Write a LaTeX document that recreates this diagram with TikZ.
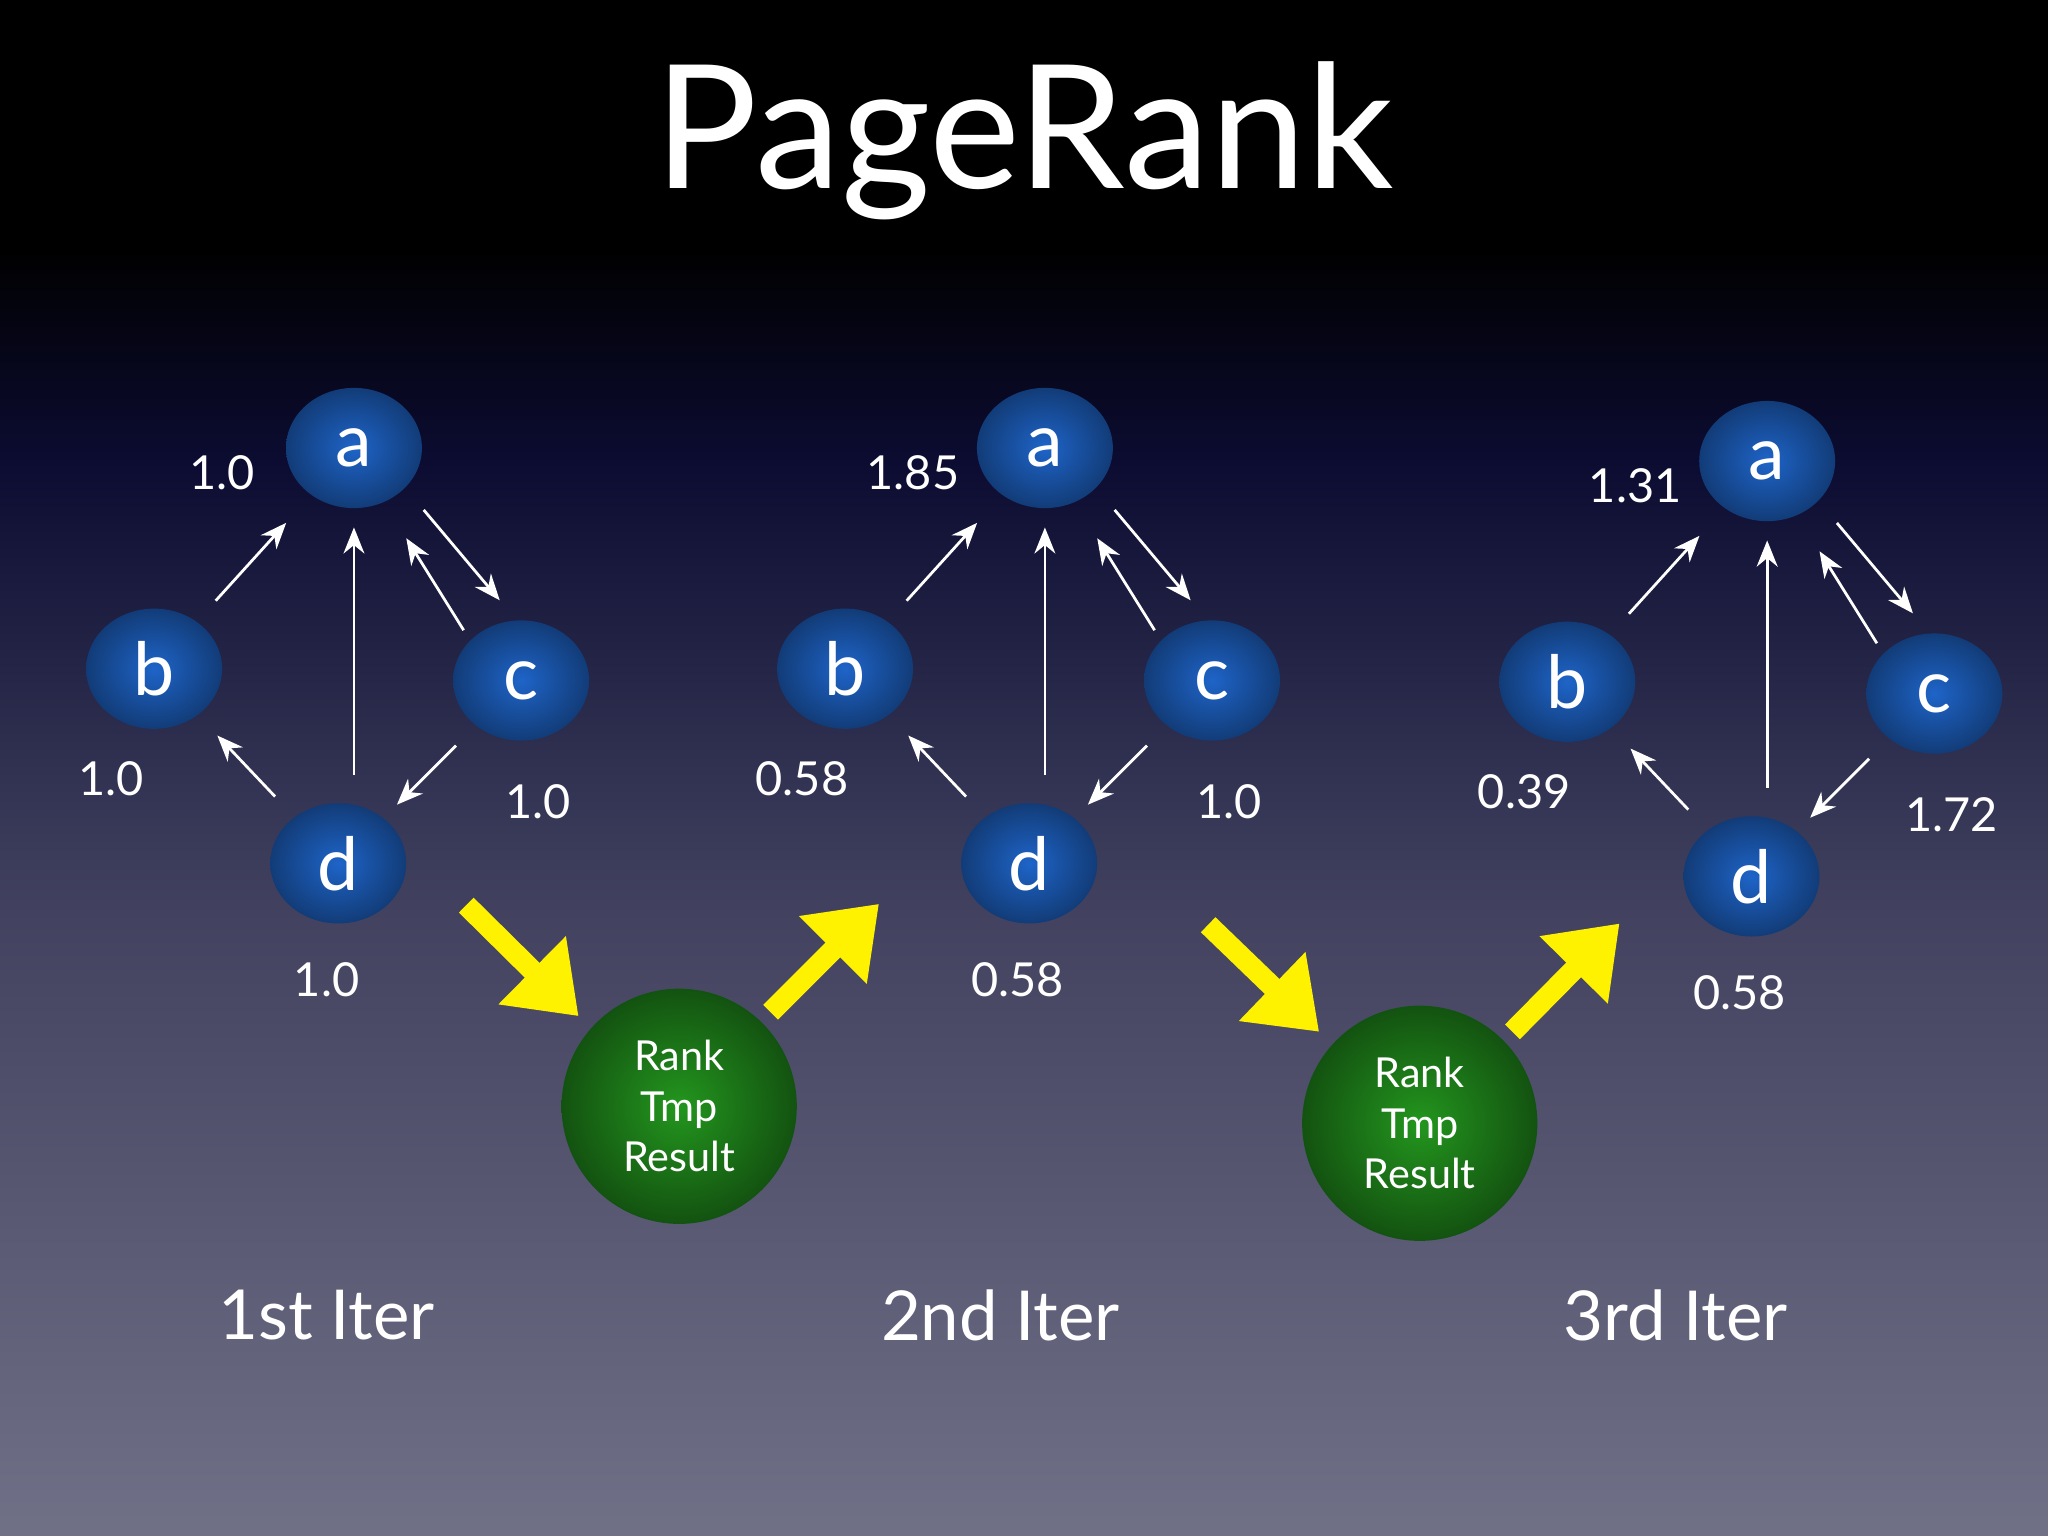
\documentclass[tikz,border=0pt]{standalone}
\usepackage{fontspec}
\setmainfont{Lato}
\usetikzlibrary{shapes.geometric,arrows.meta,calc}
\definecolor{bgtop}{RGB}{0,0,0}
\definecolor{bgmid}{RGB}{12,12,50}
\definecolor{bgbot}{RGB}{112,112,135}
\definecolor{nodeblue}{RGB}{30,100,200}
\definecolor{nodegreen}{RGB}{35,150,30}
\pgfdeclareverticalshading{bgshade}{100bp}{color(0bp)=(bgbot); color(25bp)=(bgbot); color(45bp)=(bgmid!45!bgbot); color(60bp)=(bgmid); color(67bp)=(bgtop); color(100bp)=(bgtop)}
\begin{document}
\begin{tikzpicture}[x=0.01cm,y=-0.01cm,
  vert/.style={ellipse,minimum width=1.04cm,minimum height=0.92cm,inner sep=0pt,
    inner color=nodeblue,outer color=nodeblue!60!black,text=white,font=\fontsize{16}{16}\selectfont},
  tmp/.style={circle,minimum size=1.8cm,inner sep=0pt,inner color=nodegreen,outer color=nodegreen!55!black,
    text=white,align=center,font=\fontsize{9}{11}\selectfont},
  rank/.style={text=white,font=\fontsize{10.2}{10.2}\selectfont},
  link/.style={white,semithick,-{Stealth[length=2mm,width=1.6mm]}},
  flow/.style={yellow,line width=1.6mm,-{Triangle[length=5mm,width=7mm]}},
  iter/.style={text=white,font=\fontsize{15}{15}\selectfont}]
\shade[shading=bgshade] (0,0) rectangle (1568,1176);
\useasboundingbox (0,0) rectangle (1568,1176);
\node[text=white,font=\fontsize{37.5}{37.5}\selectfont] (title) at (784,108) {PageRank};
\foreach \i/\dx/\dy/\ra/\rb/\rc/\rd in {1/0/0/1.0/1.0/1.0/1.0, 2/529/0/1.85/0.58/1.0/0.58, 3/1082/10/1.31/0.39/1.72/0.58} {
  \begin{scope}[shift={(\dx,\dy)}]
    \node[vert] (a\i) at (271,343) {a};
    \node[vert] (b\i) at (118,512) {b};
    \node[vert] (c\i) at (399,521) {c};
    \node[vert] (d\i) at (259,661) {d};
    \node[rank] (la\i) at (170,362) {\ra};
    \node[rank] (lb\i) at (85,596) {\rb};
    \node[rank] (lc\i) at (412,614) {\rc};
    \node[rank] (ld\i) at (250,750) {\rd};
    \draw[link,shorten <=6pt,shorten >=8pt] (b\i) -- (a\i);
    \draw[link,shorten <=6pt,shorten >=4pt] (d\i.north -| a\i) -- (a\i);
    \draw[link] ($(a\i)!0.75!(c\i)+(-12,6)$) -- ($(a\i)!0.36!(c\i)+(-6,5)$);
    \draw[link] ($(a\i)!0.3!(c\i)+(15,-6)$) -- ($(a\i)!0.7!(c\i)+(22,-8)$);
    \draw[link,shorten <=6pt,shorten >=4pt] (c\i) -- (d\i);
    \draw[link,shorten <=6pt,shorten >=6pt] (d\i) -- (b\i);
  \end{scope}
}
\node[tmp] (t1) at (520,847) {Rank\\Tmp\\Result};
\node[tmp] (t2) at (1087,860) {Rank\\Tmp\\Result};
\coordinate (f1) at (357,693);
\coordinate (f2) at (673,692);
\coordinate (f3) at (925,708);
\coordinate (f4) at (1240,707);
\draw[flow] (f1) -- (443,778);
\draw[flow] (590,775) -- (f2);
\draw[flow] (f3) -- (1010,790);
\draw[flow] (1158,790) -- (f4);
\node[iter] (i1) at (250,1007) {1st Iter};
\node[iter] (i2) at (766,1007) {2nd Iter};
\node[iter] (i3) at (1283,1007) {3rd Iter};
\end{tikzpicture}
\end{document}
